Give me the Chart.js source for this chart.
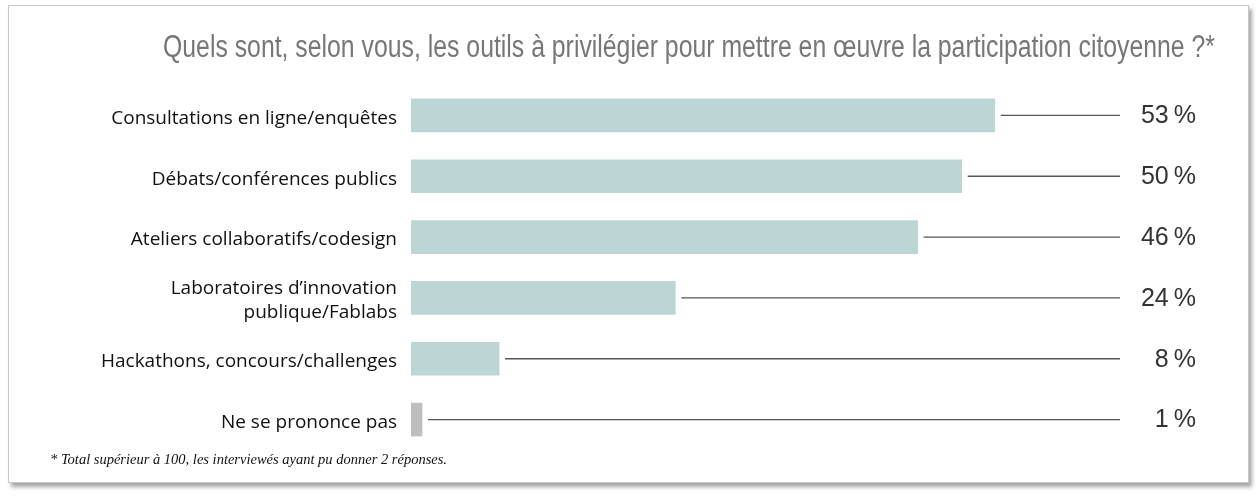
<!DOCTYPE html>
<html lang="fr">
  <head>
    <meta charset="UTF-8" />
    <title>Outils de participation citoyenne</title>
    <script src="https://cdn.jsdelivr.net/npm/chart.js"></script>
    <style>
      body { margin: 0; background: #fff; }
      .card {
        position: absolute; left: 8px; top: 5px; width: 1239px; height: 476px;
        border: 1px solid #c8c8c8; background: #fff;
        box-shadow: 3px 4px 4px rgba(0, 0, 0, 0.35);
      }
      #wrap { position: absolute; left: 0; top: 0; width: 1258px; height: 498px; }
    </style>
  </head>
  <body>
    <div class="card"></div>
    <div id="wrap"><canvas id="myChart"></canvas></div>

    <script>
      // données
      const categories = [
        "Consultations en ligne/enquêtes",
        "Débats/conférences publics",
        "Ateliers collaboratifs/codesign",
        ["Laboratoires d’innovation", "publique/Fablabs"],
        "Hackathons, concours/challenges",
        "Ne se prononce pas",
      ];
      const values = [53, 50, 46, 24, 8, 1];
      const barColors = ["#bcd6d6", "#bcd6d6", "#bcd6d6", "#bcd6d6", "#bcd6d6", "#bfbfbf"];

      const titleText =
        "Quels sont, selon vous, les outils à privilégier pour mettre en œuvre la participation citoyenne ?*";
      const noteText = "* Total supérieur à 100, les interviewés ayant pu donner 2 réponses.";

      // titre, traits et pourcentages
      const decorations = {
        id: "decorations",
        afterDatasetsDraw(chart) {
          const ctx = chart.ctx;
          const area = chart.chartArea;
          const bars = chart.getDatasetMeta(0).data;
          ctx.save();
          bars.forEach((bar, i) => {
            ctx.strokeStyle = "#555";
            ctx.lineWidth = 1.4;
            ctx.beginPath();
            ctx.moveTo(bar.x + 6, bar.y);
            ctx.lineTo(area.right - 84, bar.y);
            ctx.stroke();

            ctx.fillStyle = "#333";
            ctx.font = "25px 'Liberation Sans', Arial, sans-serif";
            ctx.textAlign = "right";
            ctx.textBaseline = "middle";
            ctx.fillText(values[i] + "\u2009%", area.right - 8, bar.y + 1);
          });

          // titre condensé
          ctx.font = "31px 'Liberation Sans Narrow', 'Liberation Sans', sans-serif";
          ctx.fillStyle = "#777";
          ctx.textAlign = "left";
          ctx.textBaseline = "alphabetic";
          const w = ctx.measureText(titleText).width;
          const s = 1052 / w;
          ctx.translate(163, 57);
          ctx.scale(s, 1);
          ctx.fillText(titleText, 0, 0);
          ctx.restore();

          ctx.save();
          ctx.font = "italic 14.5px 'Liberation Serif', 'Times New Roman', serif";
          ctx.fillStyle = "#111";
          ctx.textAlign = "left";
          ctx.textBaseline = "alphabetic";
          ctx.fillText(noteText, 50, 464);
          ctx.restore();
        },
      };

      const data = {
        labels: categories,
        datasets: [
          {
            data: values,
            backgroundColor: barColors,
            borderWidth: 0,
            barThickness: 33,
          },
        ],
      };

      const config = {
        type: "bar",
        data: data,
        options: {
          indexAxis: "y",
          responsive: true,
          maintainAspectRatio: false,
          animation: false,
          layout: { padding: { top: 85, bottom: 48, left: 0, right: 54 } },
          plugins: {
            legend: { display: false },
            tooltip: { enabled: false },
          },
          scales: {
            x: {
              display: false,
              min: 0,
              max: 72,
            },
            y: {
              grid: { display: false },
              border: { display: false },
              ticks: {
                color: "#111",
                padding: 6,
                labelOffset: 3,
                font: { family: "'Open Sans', 'Noto Sans', sans-serif", size: 19, lineHeight: 1.25 },
              },
              afterFit(scale) {
                scale.width = 411;
              },
            },
          },
        },
        plugins: [decorations],
      };

      const myChart = new Chart(document.getElementById("myChart"), config);
    </script>
  </body>
</html>
